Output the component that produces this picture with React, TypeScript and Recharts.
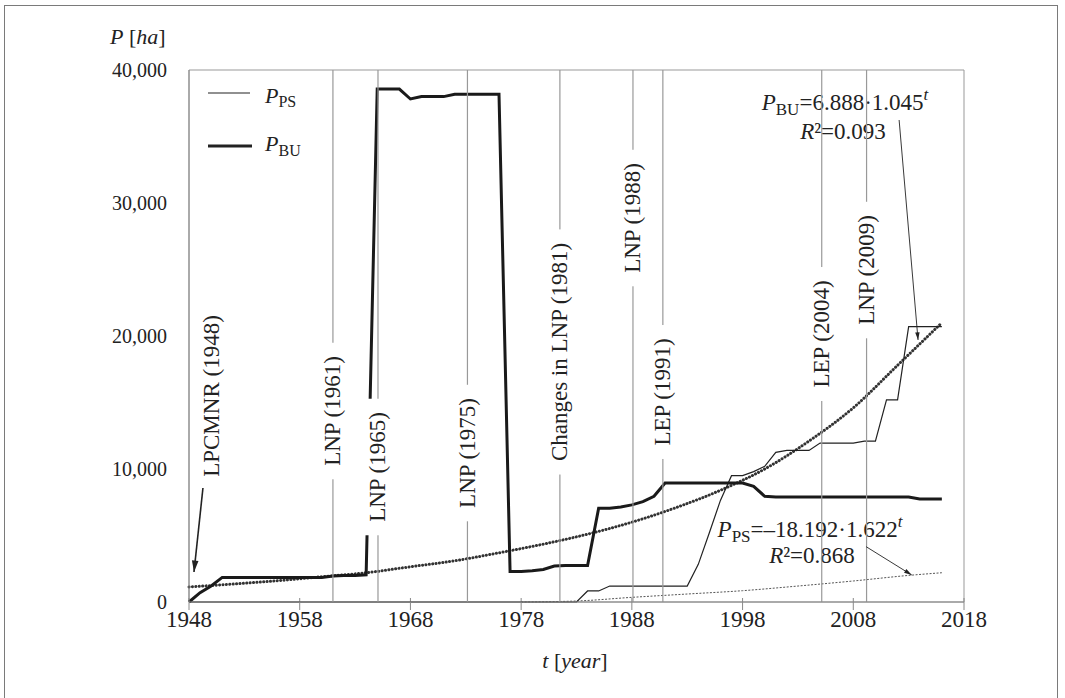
import { LineChart, Line, XAxis, YAxis, ReferenceLine, ReferenceArea, Customized } from 'recharts';

const FONT = '"Liberation Serif", "Times New Roman", serif';
const INK = '#222';
const GRAY = '#999';
const Y_MAX = 40000;

const YEARS = [
  1948, 1949, 1950, 1951, 1952, 1953, 1954, 1955, 1956, 1957,
  1958, 1959, 1960, 1961, 1962, 1963, 1964, 1965, 1966, 1967,
  1968, 1969, 1970, 1971, 1972, 1973, 1974, 1975, 1976, 1977,
  1978, 1979, 1980, 1981, 1982, 1983, 1984, 1985, 1986, 1987,
  1988, 1989, 1990, 1991, 1992, 1993, 1994, 1995, 1996, 1997,
  1998, 1999, 2000, 2001, 2002, 2003, 2004, 2005, 2006, 2007,
  2008, 2009, 2010, 2011, 2012, 2013, 2014, 2015, 2016,
];

// built-up area P_BU [ha]
const P_BU = [
  0, 700, 1200, 1850, 1850, 1850, 1850, 1850, 1850, 1850,
  1850, 1850, 1850, 1950, 2000, 2000, 2050, 38570, 38570, 38570,
  37820, 38000, 38000, 38000, 38170, 38170, 38170, 38170, 38170, 2300,
  2300, 2350, 2450, 2700, 2750, 2750, 2750, 7050, 7050, 7150,
  7300, 7550, 7950, 8950, 8950, 8950, 8950, 8950, 8950, 8950,
  8950, 8700, 7950, 7900, 7900, 7900, 7900, 7900, 7900, 7900,
  7900, 7900, 7900, 7900, 7900, 7900, 7750, 7750, 7750,
];

// protected sites P_PS [ha]
const P_PS = [
  0, 0, 0, 0, 0, 0, 0, 0, 0, 0,
  0, 0, 0, 0, 0, 0, 0, 0, 0, 0,
  0, 0, 0, 0, 0, 0, 0, 0, 0, 0,
  0, 0, 0, 0, 0, 0, 830, 830, 1200, 1200,
  1200, 1200, 1200, 1200, 1200, 1200, 2830, 5210, 7640, 9500,
  9500, 9800, 10200, 11250, 11400, 11400, 11400, 11950, 11950, 11950,
  11950, 12100, 12100, 15200, 15200, 20700, 20700, 20700, 20700,
];

// fitted trends
const TREND_BU_YEARS = [1948, 1952, 1956, 1960, 1964, 1968, 1972, 1976, 1980, 1984, 1988, 1992, 1996, 2000, 2004, 2008, 2012, 2016];
const TREND_BU = [1130, 1350, 1600, 1900, 2200, 2650, 3100, 3700, 4350, 5100, 6000, 7100, 8400, 10000, 12100, 14600, 17800, 21000];
const TREND_PS_YEARS = [1978, 1983, 1988, 1993, 1998, 2003, 2008, 2013, 2016];
const TREND_PS = [0, 75, 350, 600, 850, 1200, 1580, 2000, 2200];

const X_TICKS = [1948, 1958, 1968, 1978, 1988, 1998, 2008, 2018];
const Y_TICKS = [0, 10000, 20000, 30000, 40000];

// legislation markers
const EVENT_X = [1961, 1965.07, 1973.15, 1981.5, 1988.1, 1990.8, 2005.15, 2009.2];
const EVENT_LABELS = ['LNP (1961)', 'LNP (1965)', 'LNP (1975)', 'Changes in LNP (1981)', 'LNP (1988)', 'LEP (1991)', 'LEP (2004)', 'LNP (2009)'];
// where each label sits along its line (in ha)
const EVENT_LABEL_AT = [14360, 10150, 11200, 18800, 28870, 15790, 20150, 24960];

// annotation arrows, in data units
const ARROWS = [
  { from: [1949.26, 8570], to: [1948.45, 2255], width: 1.6, head: 12 },
  { from: [2012.14, 36240], to: [2013.85, 19700], width: 0.9, head: 8 },
  { from: [2009.16, 4160], to: [2013.28, 2030], width: 0.9, head: 8 },
];

const toRows = (xs: number[], ys: number[]) => xs.map((year, i) => ({ year, value: ys[i] }));
const buData = toRows(YEARS, P_BU);
const psData = toRows(YEARS, P_PS);
const buTrend = toRows(TREND_BU_YEARS, TREND_BU);
const psTrend = toRows(TREND_PS_YEARS, TREND_PS);

let ctx: CanvasRenderingContext2D | null = null;
const measure = (t: string, size: number) => {
  if (!ctx) ctx = document.createElement('canvas').getContext('2d');
  if (!ctx) return t.length * size * 0.47;
  ctx.font = `${size}px "Liberation Serif"`;
  return ctx.measureText(t).width;
};

const EventLabel = (props: any) => {
  const { viewBox, caption, atHa } = props;
  if (!viewBox) return null;
  const x = viewBox.x;
  const cy = viewBox.y + viewBox.height * (1 - atHa / Y_MAX);
  const len = measure(caption, 23);
  return (
    <g>
      <rect x={x - 13} y={cy - len / 2 - 13} width={26} height={len + 26} fill="#fff" />
      <text
        x={x}
        y={cy}
        transform={`rotate(-90 ${x} ${cy})`}
        textAnchor="middle"
        dominantBaseline="central"
        fontSize={23}
        fill={INK}
        fontFamily={FONT}
      >
        {caption}
      </text>
    </g>
  );
};

const arrowShape = (width: number, head: number) => (p: any) => {
  const { x1, y1, x2, y2 } = p;
  const a = Math.atan2(y2 - y1, x2 - x1);
  const s = 0.28;
  const ax = x2 - head * Math.cos(a - s);
  const ay = y2 - head * Math.sin(a - s);
  const bx = x2 - head * Math.cos(a + s);
  const by = y2 - head * Math.sin(a + s);
  return (
    <g>
      <line x1={x1} y1={y1} x2={x2} y2={y2} stroke={INK} strokeWidth={width} />
      <polygon points={`${x2},${y2} ${ax},${ay} ${bx},${by}`} fill={INK} />
    </g>
  );
};

const Overlay = () => (
  <g fontFamily={FONT} fill={INK}>
    {/* axis titles */}
    <text x={110} y={44} fontSize={22}>
      <tspan fontStyle="italic">P</tspan> [<tspan fontStyle="italic">ha</tspan>]
    </text>
    <text x={575} y={668} fontSize={22} textAnchor="middle">
      <tspan fontStyle="italic">t</tspan> [<tspan fontStyle="italic">year</tspan>]
    </text>

    {/* legend */}
    <line x1={208} y1={93} x2={250} y2={93} stroke={INK} strokeWidth={1.2} />
    <text x={265} y={103} fontSize={22}>
      <tspan fontStyle="italic">P</tspan>
      <tspan fontSize={16} dy={4}>PS</tspan>
    </text>
    <line x1={208} y1={146} x2={252} y2={146} stroke={INK} strokeWidth={3} />
    <text x={265} y={151} fontSize={22}>
      <tspan fontStyle="italic">P</tspan>
      <tspan fontSize={16} dy={5}>BU</tspan>
    </text>

    {/* equations */}
    <text x={845} y={110} fontSize={23} textAnchor="middle">
      <tspan fontStyle="italic">P</tspan>
      <tspan fontSize={17} dy={5}>BU</tspan>
      <tspan dy={-5}>=6.888·1.045</tspan>
      <tspan fontSize={17} fontStyle="italic" dy={-10}>t</tspan>
    </text>
    <text x={843} y={139} fontSize={23} textAnchor="middle">
      <tspan fontStyle="italic">R</tspan>²=0.093
    </text>
    <text x={810} y={537} fontSize={23} textAnchor="middle">
      <tspan fontStyle="italic">P</tspan>
      <tspan fontSize={17} dy={5}>PS</tspan>
      <tspan dy={-5}>=–18.192·1.622</tspan>
      <tspan fontSize={17} fontStyle="italic" dy={-10}>t</tspan>
    </text>
    <text x={812} y={563} fontSize={23} textAnchor="middle">
      <tspan fontStyle="italic">R</tspan>²=0.868
    </text>

    {/* LPCMNR label (no marker line) */}
    <text
      x={211}
      y={396}
      transform="rotate(-90 211 396)"
      textAnchor="middle"
      dominantBaseline="central"
      fontSize={23}
    >
      LPCMNR (1948)
    </text>
  </g>
);

export default function App() {
  return (
    <div style={{ position: 'absolute', left: 0, top: 0, width: 1065, height: 698, background: '#fff', overflow: 'hidden' }}>
      <div
        style={{
          position: 'absolute',
          left: 4,
          top: 5,
          width: 1054,
          height: 700,
          border: '1.5px solid #7a7a7a',
          boxSizing: 'border-box',
        }}
      />
      <div style={{ position: 'absolute', left: 0, top: 0 }}>
        <LineChart
          width={1065}
          height={698}
          margin={{ top: 70, right: 101, bottom: 56, left: 109 }}
          style={{ fontFamily: FONT }}
        >
          <XAxis
            type="number"
            dataKey="year"
            domain={[1948, 2018]}
            ticks={X_TICKS}
            allowDecimals={false}
            height={40}
            tickSize={8}
            tickMargin={1}
            stroke="#888"
            tick={{ fill: INK, fontSize: 23, fontFamily: FONT }}
          />
          <YAxis
            type="number"
            domain={[0, Y_MAX]}
            ticks={Y_TICKS}
            width={80}
            tickLine={false}
            tickSize={0}
            tickMargin={22}
            stroke="#888"
            tickFormatter={(v: number) => v.toLocaleString('en-US')}
            tick={{ fill: INK, fontSize: 20, fontFamily: FONT }}
          />
          <ReferenceArea x1={1948} x2={2018} y1={0} y2={Y_MAX} fill="none" stroke={GRAY} strokeWidth={1} />

          {/* tick marks also cross slightly into the plot */}
          {X_TICKS.map((t) => (
            <ReferenceLine
              key={`tick-${t}`}
              segment={[
                { x: t, y: 0 },
                { x: t, y: 300 },
              ]}
              stroke="#888"
              strokeWidth={1}
            />
          ))}

          <Line
            data={psTrend}
            dataKey="value"
            type="monotone"
            stroke="#555"
            strokeWidth={1}
            strokeDasharray="2 1.5"
            dot={false}
            isAnimationActive={false}
          />
          <Line
            data={buTrend}
            dataKey="value"
            type="monotone"
            stroke="#333"
            strokeWidth={3}
            strokeLinecap="round"
            strokeDasharray="0.1 3.3"
            dot={false}
            isAnimationActive={false}
          />
          <Line
            data={psData}
            dataKey="value"
            type="linear"
            stroke={INK}
            strokeWidth={1.2}
            dot={false}
            isAnimationActive={false}
          />
          <Line
            data={buData}
            dataKey="value"
            type="linear"
            stroke="#1a1a1a"
            strokeWidth={3}
            dot={false}
            isAnimationActive={false}
          />

          {EVENT_X.map((x, i) => (
            <ReferenceLine
              key={EVENT_LABELS[i]}
              x={x}
              stroke={GRAY}
              strokeWidth={1.2}
              label={<EventLabel caption={EVENT_LABELS[i]} atHa={EVENT_LABEL_AT[i]} />}
            />
          ))}

          {ARROWS.map((a, i) => (
            <ReferenceLine
              key={`arrow-${i}`}
              segment={[
                { x: a.from[0], y: a.from[1] },
                { x: a.to[0], y: a.to[1] },
              ]}
              shape={arrowShape(a.width, a.head)}
            />
          ))}

          <Customized component={Overlay} />
        </LineChart>
      </div>
    </div>
  );
}
